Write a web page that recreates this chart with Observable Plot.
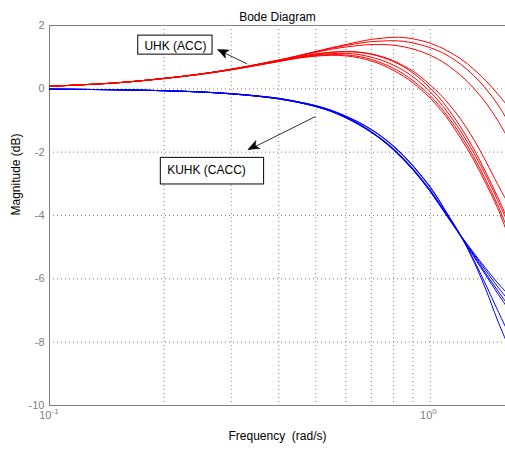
<!DOCTYPE html>
<html>
<head>
<meta charset="utf-8">
<script src="https://cdn.jsdelivr.net/npm/d3@7"></script>
<script src="https://cdn.jsdelivr.net/npm/@observablehq/plot@0.6"></script>
<style>
  html, body { margin: 0; padding: 0; background: #fff; }
  svg { display: block; }
</style>
</head>
<body>
<div id="chart"></div>
<script>
const freq = [0.1,0.15,0.2,0.25,0.3,0.35,0.4,0.45,0.5,0.55,0.6,0.65,0.7,0.75,0.8,0.85,0.9,0.95,1.0,1.05,1.1,1.2,1.3,1.4,1.5,1.58];

// UHK (ACC) – red curves
const red1 = [0.08,0.19,0.33,0.47,0.62,0.77,0.91,1.05,1.18,1.3,1.4,1.49,1.56,1.6,1.63,1.62,1.58,1.52,1.44,1.34,1.22,0.95,0.62,0.25,-0.15,-0.48];
const red2 = [0.08,0.19,0.33,0.47,0.62,0.77,0.91,1.04,1.17,1.28,1.37,1.44,1.49,1.51,1.52,1.5,1.45,1.38,1.3,1.2,1.08,0.78,0.42,0.0,-0.48,-0.92];
const red3 = [0.08,0.19,0.33,0.47,0.62,0.76,0.9,1.03,1.15,1.25,1.32,1.37,1.4,1.4,1.38,1.33,1.26,1.17,1.06,0.93,0.78,0.43,0.02,-0.45,-0.98,-1.45];
const red4 = [0.08,0.19,0.33,0.47,0.61,0.76,0.89,1.01,1.1,1.16,1.18,1.16,1.1,1.01,0.89,0.73,0.56,0.35,0.12,-0.12,-0.38,-0.95,-1.6,-2.3,-3.0,-3.5];
const red5 = [0.08,0.19,0.33,0.47,0.61,0.75,0.88,1.0,1.09,1.15,1.17,1.15,1.09,0.99,0.86,0.7,0.5,0.27,0.02,-0.25,-0.55,-1.2,-1.9,-2.65,-3.4,-4.0];
const red6 = [0.08,0.19,0.33,0.47,0.61,0.75,0.88,0.99,1.07,1.11,1.12,1.08,1.0,0.89,0.75,0.58,0.38,0.15,-0.1,-0.38,-0.68,-1.33,-2.02,-2.75,-3.5,-4.1];
const red7 = [0.08,0.19,0.33,0.46,0.6,0.74,0.87,0.98,1.05,1.08,1.07,1.02,0.93,0.8,0.65,0.47,0.26,0.03,-0.22,-0.5,-0.8,-1.45,-2.15,-2.9,-3.65,-4.3];
const red8 = [0.08,0.19,0.32,0.46,0.6,0.74,0.86,0.97,1.03,1.06,1.04,0.98,0.88,0.75,0.58,0.4,0.19,-0.05,-0.3,-0.58,-0.88,-1.55,-2.25,-3.0,-3.75,-4.45];

// KUHK (CACC) – blue curves
const blue1 = [-0.01,-0.03,-0.06,-0.1,-0.15,-0.22,-0.3,-0.41,-0.53,-0.68,-0.86,-1.06,-1.28,-1.53,-1.8,-2.1,-2.42,-2.76,-3.1,-3.48,-3.88,-4.62,-5.45,-6.35,-7.3,-7.95];
const blue2 = [-0.01,-0.03,-0.06,-0.1,-0.15,-0.22,-0.3,-0.41,-0.53,-0.68,-0.87,-1.07,-1.29,-1.54,-1.82,-2.12,-2.44,-2.78,-3.12,-3.5,-3.9,-4.63,-5.4,-6.2,-6.98,-7.55];
const blue3 = [-0.01,-0.03,-0.06,-0.1,-0.16,-0.23,-0.32,-0.43,-0.56,-0.72,-0.92,-1.14,-1.38,-1.64,-1.93,-2.24,-2.56,-2.9,-3.25,-3.62,-3.98,-4.65,-5.3,-5.9,-6.45,-6.85];
const blue4 = [-0.01,-0.03,-0.06,-0.1,-0.16,-0.23,-0.32,-0.43,-0.56,-0.71,-0.91,-1.13,-1.37,-1.63,-1.92,-2.23,-2.55,-2.89,-3.24,-3.61,-3.97,-4.64,-5.26,-5.84,-6.36,-6.74];
const blue5 = [-0.01,-0.03,-0.06,-0.1,-0.16,-0.23,-0.31,-0.42,-0.55,-0.71,-0.9,-1.12,-1.36,-1.62,-1.9,-2.21,-2.53,-2.87,-3.22,-3.59,-3.95,-4.63,-5.22,-5.75,-6.24,-6.58];
const blue6 = [-0.01,-0.03,-0.06,-0.1,-0.16,-0.23,-0.31,-0.42,-0.55,-0.7,-0.89,-1.11,-1.35,-1.61,-1.89,-2.2,-2.52,-2.86,-3.2,-3.57,-3.93,-4.62,-5.18,-5.68,-6.12,-6.42];

// axes
const xDomain = [0.1, 1.575];
const yDomain = [-10, 2];
const yTicks = [-10,-8,-6,-4,-2,0,2];
const yGrid = [-8,-6,-4,-2,0];
const xGrid = [0.2,0.3,0.4,0.5,0.6,0.7,0.8,0.9,1];
const xTickVals = [0.1, 1];
const xTickExp = ["-1", "0"];

// annotations
const labelText = ["UHK (ACC)", "KUHK (CACC)"];
const labelF = [0.1775, 0.2037];
const labelM = [1.34, -2.58];
const boxF1 = [0.171, 0.196];
const boxF2 = [0.268, 0.366];
const boxM1 = [1.68, -2.18];
const boxM2 = [1.08, -3.02];
const arrowF1 = [0.330, 0.499];
const arrowM1 = [0.79, -0.875];
const arrowF2 = [0.277, 0.333];
const arrowM2 = [1.23, -1.93];

function toRows(curves, prefix) {
  const rows = [];
  curves.forEach((vals, i) => vals.forEach((m, j) => rows.push({f: freq[j], m, id: prefix + i})));
  return rows;
}
const redRows = toRows([red1,red2,red3,red4,red5,red6,red7,red8], "r");
const blueRows = toRows([blue1,blue2,blue3,blue4,blue5,blue6], "b");

const boxes = labelText.map((t, i) => ({t, f: labelF[i], m: labelM[i], f1: boxF1[i], f2: boxF2[i], m1: boxM1[i], m2: boxM2[i]}));
const arrows = arrowF1.map((d, i) => ({x1: arrowF1[i], y1: arrowM1[i], x2: arrowF2[i], y2: arrowM2[i]}));

const font = "'Liberation Sans', Arial, Helvetica, sans-serif";
const gray = "#808080";

const chart = Plot.plot({
  width: 505,
  height: 450,
  marginLeft: 49,
  marginRight: 0,
  marginTop: 25,
  marginBottom: 45,
  style: {fontFamily: font, background: "#fff"},
  x: {type: "log", domain: xDomain, axis: null},
  y: {domain: yDomain, axis: null},
  marks: [
    Plot.ruleY(yGrid, {stroke: gray, strokeDasharray: "1,3", strokeWidth: 1}),
    Plot.ruleX(xGrid, {stroke: gray, strokeDasharray: "1,3", strokeWidth: 1}),
    Plot.frame({stroke: gray, strokeWidth: 1}),
    Plot.text(yTicks, {y: d => d, frameAnchor: "left", textAnchor: "end", dx: -5, fontSize: 11, fill: gray}),
    Plot.text(xTickVals, {x: d => d, text: () => "10", frameAnchor: "bottom", textAnchor: "end", dx: 2, dy: 13, fontSize: 11, fill: gray}),
    Plot.text(xTickVals, {x: d => d, text: (d, i) => xTickExp[i], frameAnchor: "bottom", textAnchor: "start", dx: 2, dy: 8, fontSize: 8, fill: gray}),
    Plot.line(blueRows, {x: "f", y: "m", z: "id", stroke: "#0000ff", strokeWidth: 1, curve: "catmull-rom", clip: true}),
    Plot.line(redRows, {x: "f", y: "m", z: "id", stroke: "#ff0000", strokeWidth: 1, curve: "catmull-rom", clip: true}),
    Plot.rect(boxes, {x1: "f1", x2: "f2", y1: "m1", y2: "m2", fill: "#fff", stroke: "#000", strokeWidth: 1}),
    Plot.text(boxes, {x: "f", y: "m", text: "t", textAnchor: "start", fontSize: 12, fill: "#000"}),
    Plot.link(arrows, {x1: "x1", y1: "y1", x2: "x2", y2: "y2", stroke: "#333", strokeWidth: 1}),
    Plot.text(["Bode Diagram"], {frameAnchor: "top", dy: -13, fontSize: 12, fill: "#000"}),
    Plot.text(["Frequency  (rad/s)"], {frameAnchor: "bottom", dy: 34, fontSize: 12, fill: "#000"}),
    Plot.text(["Magnitude (dB)"], {frameAnchor: "left", dx: -33, rotate: -90, fontSize: 12, fill: "#000"})
  ]
});

// filled arrowheads placed with the chart's own scales
const sx = chart.scale("x"), sy = chart.scale("y");
const headLen = 11, headHalf = 4.5, notch = 0.75;
const g = d3.select(chart).append("g").attr("class", "arrowheads");
arrows.forEach(a => {
  const x1 = sx.apply(a.x1), y1 = sy.apply(a.y1), x2 = sx.apply(a.x2), y2 = sy.apply(a.y2);
  const ang = Math.atan2(y2 - y1, x2 - x1);
  const c = Math.cos(ang), s = Math.sin(ang);
  const pt = (u, v) => [x2 + u * c - v * s, y2 + u * s + v * c];
  const pts = [pt(0, 0), pt(-headLen, headHalf), pt(-headLen * notch, 0), pt(-headLen, -headHalf)];
  g.append("path").attr("d", "M" + pts.map(p => p.join(",")).join("L") + "Z").attr("fill", "#000").attr("stroke", "#000").attr("stroke-width", 0.5);
});

document.getElementById("chart").appendChild(chart);
</script>
</body>
</html>
